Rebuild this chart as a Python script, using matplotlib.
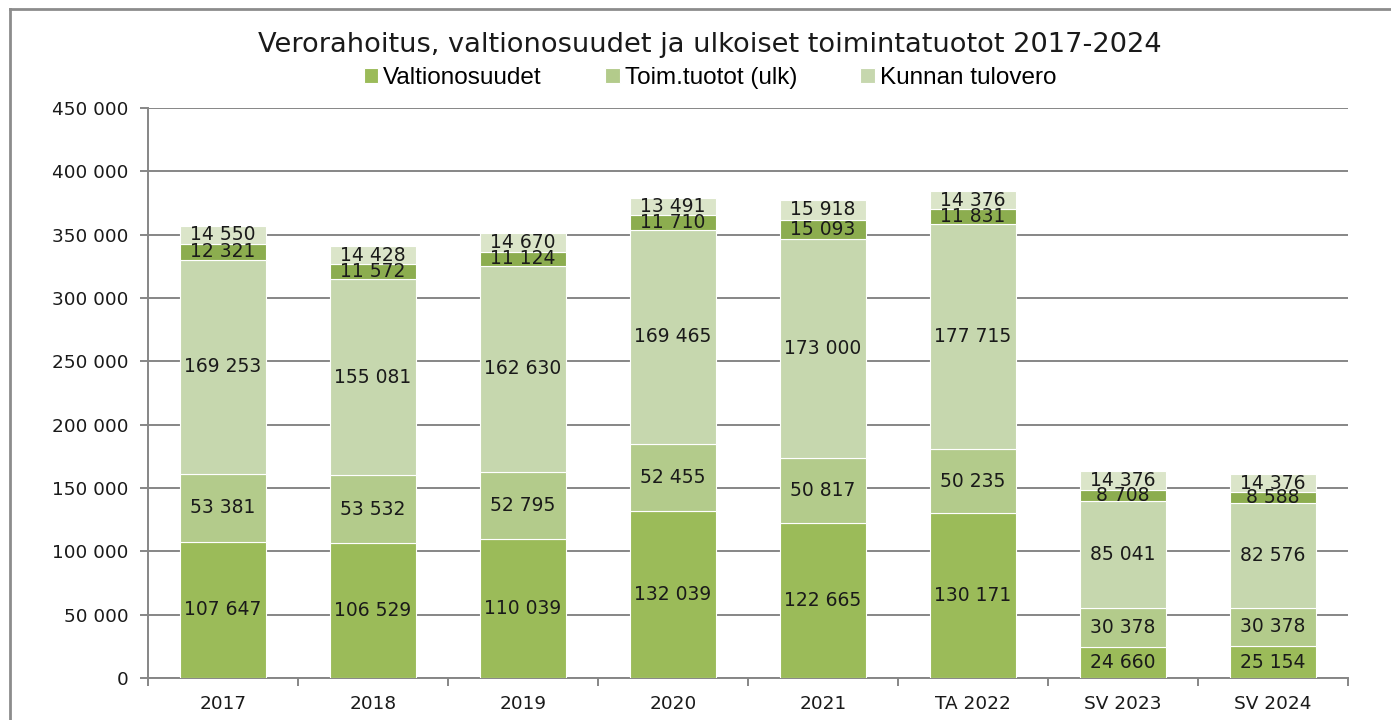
import matplotlib
matplotlib.use("Agg")
import matplotlib.pyplot as plt
from matplotlib.lines import Line2D
from matplotlib.ticker import FixedLocator, FuncFormatter
from matplotlib import font_manager

categories = ["2017", "2018", "2019", "2020", "2021", "TA 2022", "SV 2023", "SV 2024"]
valtionosuudet = [107647, 106529, 110039, 132039, 122665, 130171, 24660, 25154]
toimtuotot = [53381, 53532, 52795, 52455, 50817, 50235, 30378, 30378]
tulovero = [169253, 155081, 162630, 169465, 173000, 177715, 85041, 82576]
series4 = [12321, 11572, 11124, 11710, 15093, 11831, 8708, 8588]
series5 = [14550, 14428, 14670, 13491, 15918, 14376, 14376, 14376]

series = [
    ("Valtionosuudet", valtionosuudet, "#9bbb59"),
    ("Toim.tuotot (ulk)", toimtuotot, "#b3cb8b"),
    ("Kunnan tulovero", tulovero, "#c6d7ae"),
    ("_s4", series4, "#8cad4f"),
    ("_s5", series5, "#dbe5c9"),
]

plt.rcParams['font.family'] = ['DejaVu Sans']
names = {f.name for f in font_manager.fontManager.ttflist}
if "Liberation Sans Narrow" in names:
    leg_prop = {"family": "Liberation Sans Narrow", "size": 17}
else:
    leg_prop = {"family": "Liberation Sans", "size": 17.5}

fig = plt.figure(figsize=(13.91, 7.2), dpi=100)
ax = fig.add_axes([148/1391, 1-678/720, 1200/1391, 570/720])

x = list(range(len(categories)))
bottoms = [0]*len(categories)
for name, vals, col in series:
    ax.bar(x, vals, width=0.57, bottom=bottoms, color=col,
           edgecolor="white", linewidth=0.8, label=name, zorder=3)
    for xi, b, v in zip(x, bottoms, vals):
        ax.text(xi, b + v/2, f"{v:,}".replace(",", " "), ha="center", va="center",
                fontsize=13.5, color="#1a1a1a", zorder=4)
    bottoms = [b + v for b, v in zip(bottoms, vals)]

ax.set_xlim(-0.5, 7.5)
ax.set_ylim(0, 450000)
ax.yaxis.set_major_locator(FixedLocator(list(range(0, 450001, 50000))))
ax.yaxis.set_major_formatter(FuncFormatter(lambda v, p: f"{int(v):,}".replace(",", " ")))
ax.grid(axis="y", color="#868686", linewidth=1.4, zorder=0)
ax.set_axisbelow(True)

ax.set_xticks(x)
ax.set_xticklabels(categories)
ax.xaxis.set_minor_locator(FixedLocator([i - 0.5 for i in range(len(categories)+1)]))
ax.tick_params(axis="x", which="major", length=0, labelsize=13.3, pad=12, colors="#1a1a1a")
ax.tick_params(axis="x", which="minor", length=6, width=1.4, color="#868686")
ax.tick_params(axis="y", length=6, width=1.4, color="#868686", labelsize=13.3, labelcolor="#1a1a1a", pad=8)

for s in ["top", "right"]:
    ax.spines[s].set_visible(False)
for s in ["left", "bottom"]:
    ax.spines[s].set_color("#868686")
    ax.spines[s].set_linewidth(1.4)

fig.text(710/1391, 1-45/720, "Verorahoitus, valtionosuudet ja ulkoiset toimintatuotot 2017-2024",
         ha="center", va="center", fontsize=19.6, color="#1a1a1a")

handles, labels = ax.get_legend_handles_labels()
fig.legend(handles[:3], labels[:3], loc="center", bbox_to_anchor=(710/1391, 1-78/720),
           ncol=3, frameon=False, handlelength=0.6, handleheight=0.6,
           handletextpad=0.2, columnspacing=2.6, prop=leg_prop)

# outer frame
fig.add_artist(Line2D([10/1391, 1.0], [1-9/720, 1-9/720], transform=fig.transFigure,
                      color="#8c8c8c", linewidth=2))
fig.add_artist(Line2D([10/1391, 10/1391], [0, 1-9/720], transform=fig.transFigure,
                      color="#8c8c8c", linewidth=2))

fig.savefig("out.png", dpi=100)
